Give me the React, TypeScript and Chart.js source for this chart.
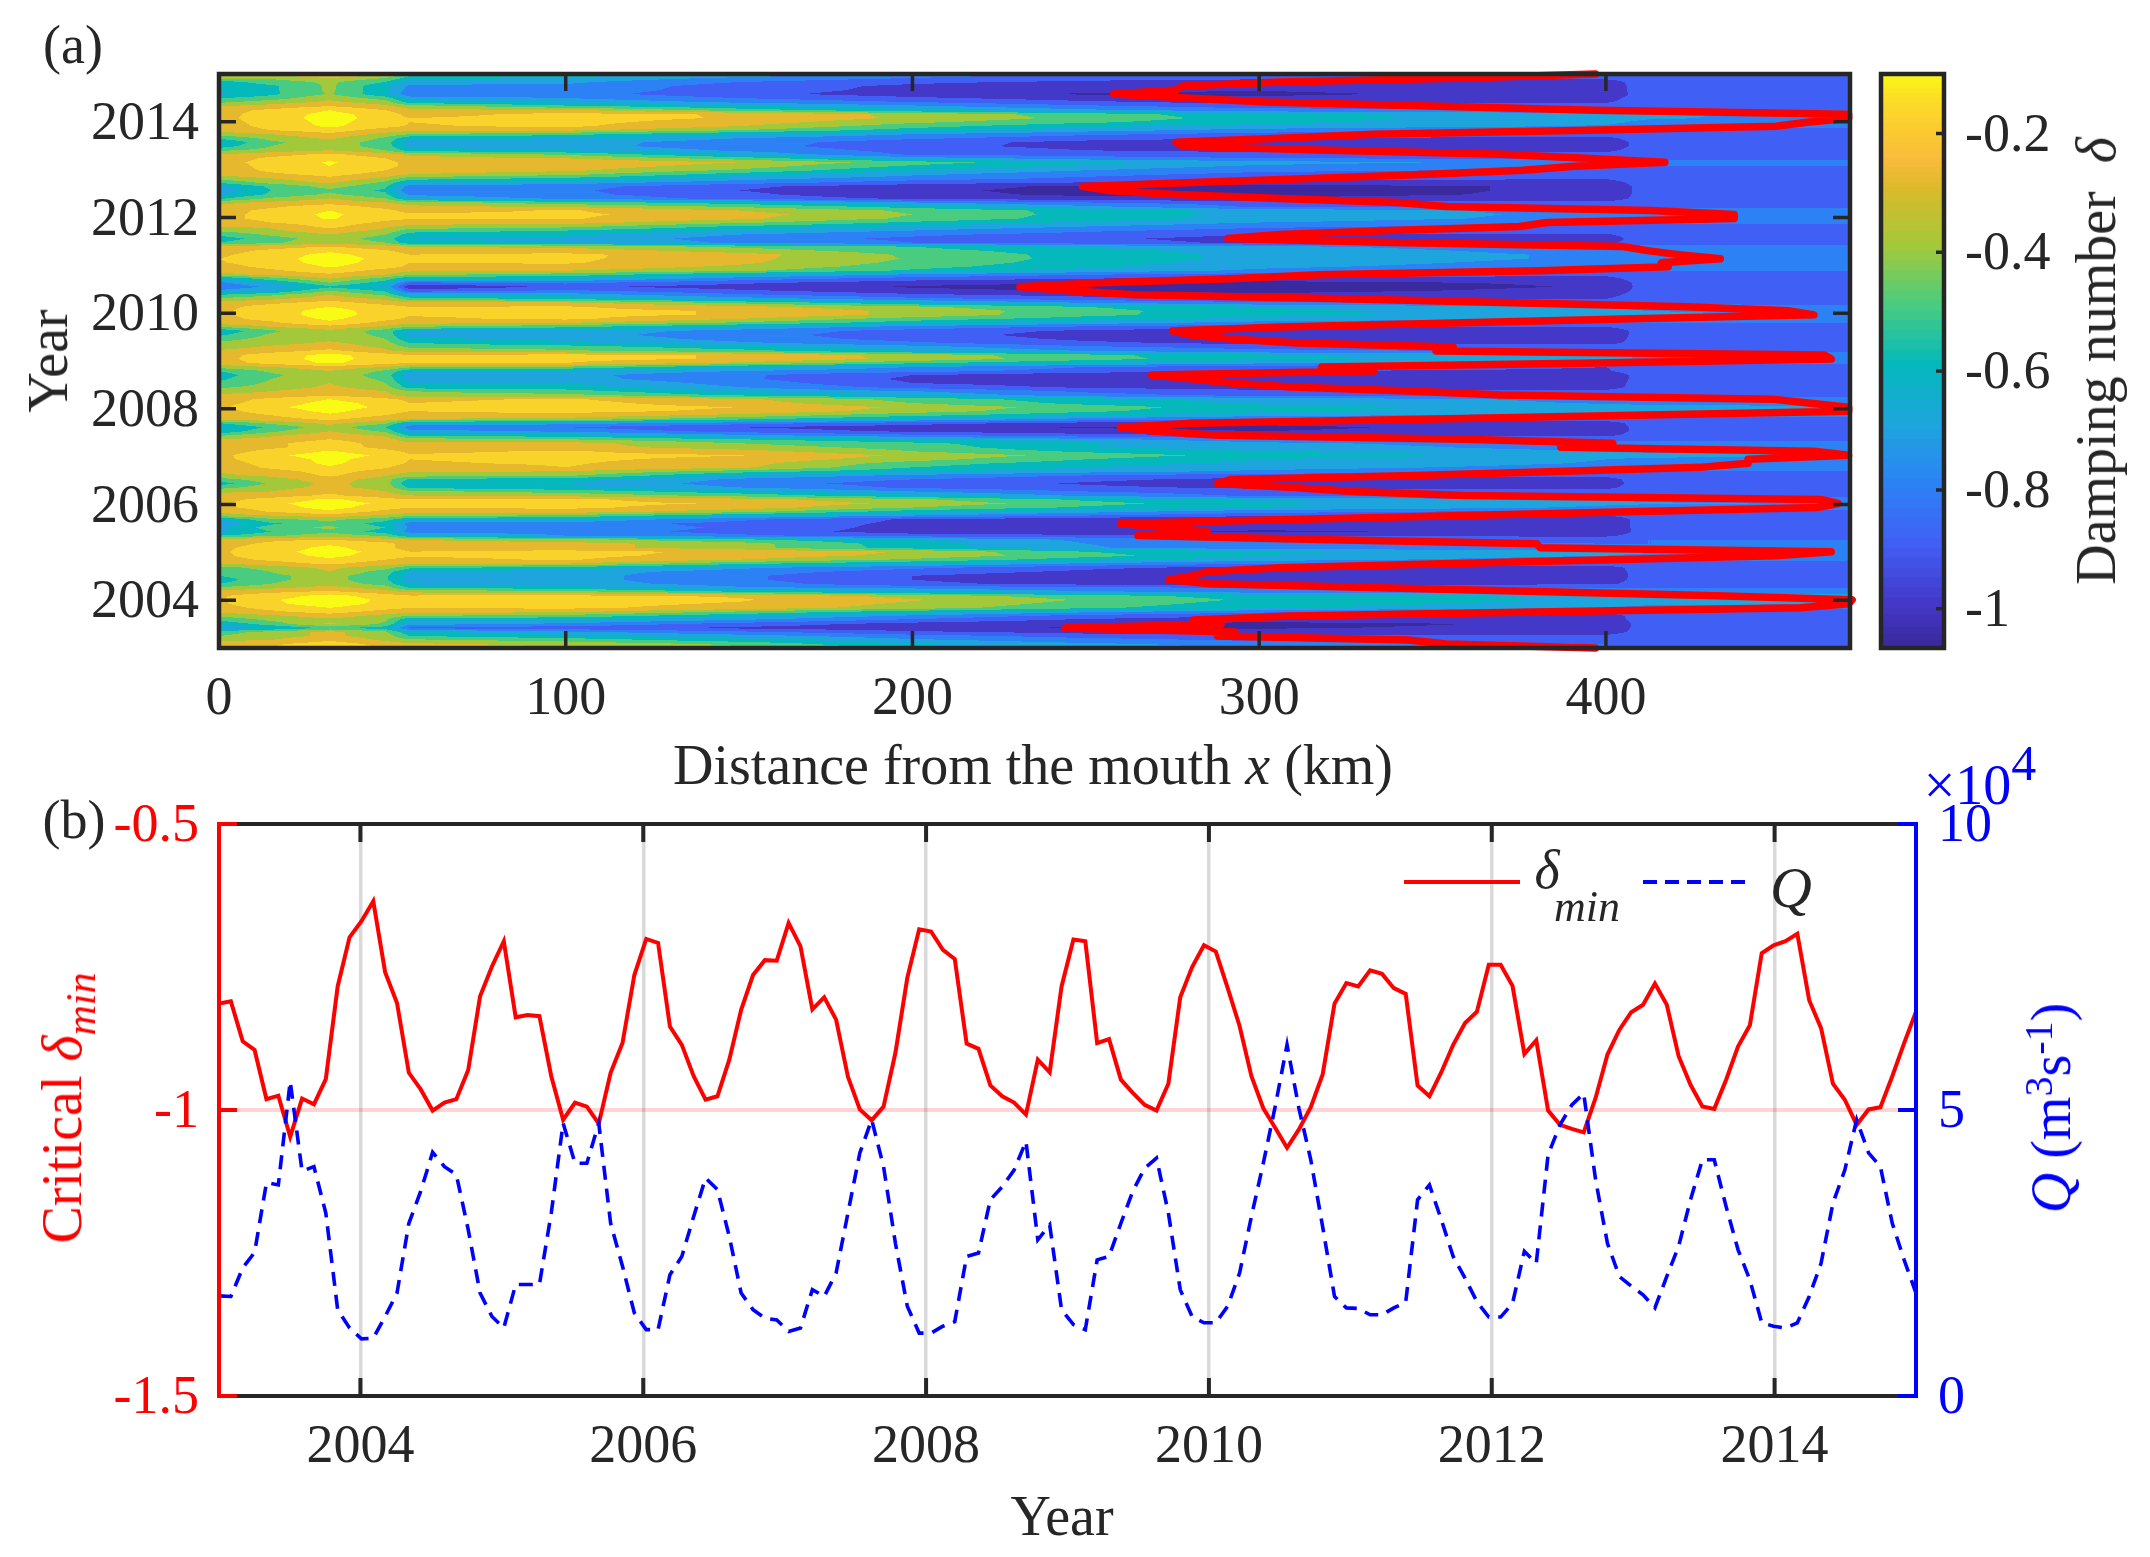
import React, { useEffect, useRef } from "react";
import { Chart, registerables } from "chart.js";

Chart.register(...registerables);

const SERIF = '"Liberation Serif", "Times New Roman", serif';
const DARK = "#262626";

// Panel (a): distance columns of the damping-number table (km)
const fieldColumns = [0, 15, 32, 48, 55, 100, 150, 200, 250, 300, 400, 412, 470];
// |delta| x 100, one row per month, first row = top of the panel (2015), last row = 2003
const fieldRows = [
  [25,26,18,25,45,52,62,75,80,85,85,83,83],
  [35,38,30,40,55,62,72,80,86,88,88,85,85],
  [55,45,38,50,66,68,80,88,92,94,94,85,85],
  [58,52,38,58,72,72,85,92,97,99,95,85,85],
  [60,52,38,58,74,74,85,93,98,99.5,95,85,85],
  [62,52,39,58,78,76,87,95,101,102,96,85,85],
  [50,45,32,45,65,70,80,88,95,98,93,85,85],
  [42,35,28,35,55,62,72,80,88,94,91,85,85],
  [30,26,20,28,35,48,58,68,78,85,85,84,84],
  [24,18,10,20,28,28,45,58,68,76,80,80,80],
  [24,15,7,14,24,17,21,33,45,57,67,69,72],
  [23,15,6,14,20,16,21,32,43,55,67,69,73],
  [24,16,7,15,20,17,25,38,48,58,68,72,74],
  [25,17,8,17,21,18,30,46,58,63,71,74,75],
  [26,20,15,25,27,28,40,55,66,74,82,84,84],
  [36,30,22,33,40,47,60,70,78,84,87,85,85],
  [48,37,28,42,58,60,70,78,86,90,92,85,85],
  [60,42,34,45,66,66,75,86,93,97,96,85,85],
  [55,40,34,45,63,66,76,87,93,96,96,85,85],
  [42,36,30,40,55,60,72,84,90,93,92,85,85],
  [30,24,18,26,32,42,62,82,85,86,88,84,84],
  [26,18,12,20,26,30,45,65,75,80,82,82,82],
  [24,16,9,17,23,21,30,45,58,66,74,77,78],
  [25,17,10,18,22,24,35,52,63,72,79,80,80],
  [26,18,12,20,24,28,42,60,70,78,82,82,82],
  [28,22,17,24,30,37,55,68,77,83,85,85,85],
  [36,30,22,33,45,52,66,75,82,87,89,85,85],
  [48,36,28,42,60,65,75,85,90,94,94,85,85],
  [62,48,36,48,75,76,88,96,102,104,98,85,85],
  [68,50,42,52,80,78,90,98,103,104,98,85,85],
  [62,48,38,48,72,77,88,97,102,103,98,85,85],
  [52,38,30,40,62,72,84,92,97,99,96,85,85],
  [33,28,24,30,35,46,55,70,80,85,87,85,85],
  [27,22,15,24,28,32,42,55,68,82,82,82,82],
  [25,17,10,17,24,19,30,42,54,64,74,76,77],
  [24,16,8,16,18,18,26,40,54,63,73,75,76],
  [24,16,9,17,19,19,28,42,55,64,74,75,76],
  [28,20,14,22,26,26,38,52,62,70,78,79,79],
  [30,28,17,28,33,37,52,62,70,78,84,83,83],
  [38,32,24,33,45,50,62,70,78,84,87,85,85],
  [48,38,30,40,55,58,70,78,84,90,91,85,85],
  [55,45,34,45,60,62,75,82,88,94,94,85,85],
  [50,42,33,40,58,60,72,80,86,92,92,85,85],
  [28,24,20,26,30,33,42,50,62,68,76,78,78],
  [24,18,12,19,24,24,35,46,56,65,74,76,77],
  [22,15,7,15,20,18,26,42,54,63,72,74,75],
  [20,14,5,13,18,18,27,41,54,63,72,73,74],
  [21,15,6,14,20,19,28,43,55,65,74,76,76],
  [24,17,9,16,22,23,32,46,58,68,76,77,77],
  [28,22,14,24,28,30,38,52,64,72,80,80,80],
  [33,28,22,30,38,45,60,72,80,85,88,85,85],
  [62,45,30,45,60,60,75,85,90,95,93,85,85],
  [72,60,40,55,82,78,88,96,100,103,98,85,85],
  [78,68,52,62,99,88,95,101,104,106,99,85,85],
  [68,60,40,52,85,78,88,97,101,103,97,85,85],
  [50,42,30,42,62,65,78,88,94,98,93,85,85],
  [38,32,24,32,45,52,65,77,85,90,90,85,85],
  [25,22,16,24,27,28,42,58,70,78,83,83,83],
  [23,16,10,16,20,19,27,38,50,60,72,75,77],
  [22,15,6,15,19,17,21,33,46,58,66,70,73],
  [22,15,5,15,19,17,21,33,47,57,66,68,71],
  [23,17,8,17,22,18,30,45,55,63,72,74,75],
  [25,22,12,24,27,30,42,56,66,74,80,80,80],
  [40,30,24,32,40,48,62,74,82,88,90,85,85],
  [58,42,32,45,62,64,74,84,92,97,96,85,85],
  [52,38,35,42,65,66,76,86,94,98,96,85,85],
  [44,36,33,40,58,62,74,84,92,96,95,85,85],
  [38,34,28,36,50,58,68,78,88,93,93,85,85],
  [35,28,24,32,42,45,56,66,78,84,85,84,84],
  [28,24,17,28,33,38,46,60,70,77,83,83,83],
  [24,15,7,15,20,17,21,34,47,58,69,71,73],
  [23,15,6,15,19,17,21,33,46,57,68,71,72],
  [24,17,8,17,19,20,32,48,60,68,75,78,78],
  [36,30,24,30,38,42,60,70,80,86,90,85,85],
  [50,38,30,42,58,62,70,76,85,90,91,84,84],
  [55,42,33,45,66,67,78,90,97,100.5,96,85,85],
  [52,40,33,42,66,66,78,92,96,99,96,85,85],
  [48,38,30,40,60,60,74,90,95,98,95,85,85],
  [42,36,28,36,55,56,70,84,92,96,94,85,85],
  [35,30,24,30,40,46,62,70,82,87,88,85,85],
  [28,26,22,27,36,37,52,62,76,84,86,84,84],
  [24,18,10,18,22,19,28,44,56,64,73,75,76],
  [23,16,6,14,20,17,25,40,53,62,71,73,74],
  [22,12,5,12,19,16,20,32,45,56,65,66,69],
  [23,16,7,16,20,17,22,35,48,58,66,68,70],
  [25,20,12,20,24,23,33,47,58,66,75,76,77],
  [28,24,18,26,30,34,48,62,74,82,86,84,84],
  [50,38,27,38,62,66,76,86,94,98,94,85,85],
  [62,48,34,50,76,80,90,96,101,102,96,85,85],
  [58,42,30,42,66,72,84,92,97,100,96,85,85],
  [42,32,24,32,52,56,68,78,86,92,92,85,85],
  [30,26,20,26,36,40,50,58,68,76,82,82,82],
  [26,22,15,24,28,26,40,48,58,68,76,78,78],
  [25,22,15,23,26,26,35,44,60,64,75,78,78],
  [25,17,9,17,22,19,26,40,52,60,70,72,74],
  [23,12,5,12,19,17,19.5,32,44,54,64,66,68],
  [22,16,7,15,20,18,23,36,50,60,70,73,74],
  [24,17,8,16,21,19,26,45,56,62,71,73,74],
  [27,18,11,19,25,20,28,50,60,66,74,75,76],
  [29,24,16,24,29,30,45,58,66,72,80,80,80],
  [32,28,18,29,35,38,62,72,80,86,88,85,85],
  [44,34,25,35,52,56,72,80,88,93,93,85,85],
  [55,38,27,36,58,60,75,85,91,96,94,85,85],
  [44,34,27,34,52,58,70,82,88,92,92,85,85],
  [32,30,22,30,38,44,56,70,80,86,87,84,84],
  [26,25,18,26,30,33,44,58,72,82,84,83,83],
  [24,16,8,16,20,18,26,38,52,62,70,72,74],
  [22,12,5,12,19,17,21,33,46,58,68,69,71],
  [23,15,6,16,20,18,25,40,52,60,72,74,75],
  [28,19,12,23,26,24,36,55,66,76,84,83,83],
  [35,30,24,32,36,42,58,70,80,88,90,85,85],
  [62,42,38,46,60,62,78,92,98,102,97,85,85],
  [68,52,42,55,74,74,84,92,96,99,97,85,85],
  [62,45,38,50,72,72,82,94,96,98,97,85,85],
  [65,50,42,55,74,74,84,95,98,101,98,85,85],
  [50,42,34,42,58,70,78,85,88,92,92,85,85],
  [26,22,20,26,30,36,48,60,72,80,84,80,80],
  [24,18,12,17,25,26,36,56,70,76,80,80,80],
  [22,16,7,17,25,26,36,55,69,76,80,79,79],
  [22,13,6,13,20,17,22,31,50,58,66,68,71],
  [22,15,7,15,19,17,24,33,46,60,70,73,75],
  [24,18,12,20,23,19,30,42,56,66,76,78,79],
  [30,25,18,26,28,30,48,60,72,80,85,84,84],
  [45,35,28,36,48,55,68,78,88,94,94,85,85],
  [50,40,30,45,60,65,75,85,92,96,95,85,85],
  [50,42,36,48,65,66,78,90,96,99,96,85,85],
  [55,42,36,48,65,66,78,90,95,96,95,85,85],
  [50,40,34,44,62,65,75,88,93,93,92,85,85],
  [38,32,26,35,50,55,68,72,78,80,80,80,80],
  [25,22,18,26,32,36,50,60,68,74,76,76,76],
  [21,15,6,15,19,18,21,34,46,55,63,65,64],
  [21,11,4,12,18,17,19,29,41,52,62,64,67],
  [22,12,5,13,19,17,21,32,44,55,64,67,70],
  [24,17,10,17,20,18,24,35,48,58,70,75,78],
  [28,22,16,24,27,28,42,56,68,78,88,85,85],
  [38,32,25,34,40,44,58,72,84,90,94,85,85],
  [48,38,33,38,60,60,70,82,92,96,95,85,85],
  [58,45,28,42,66,72,84,94,100,103,98,85,85],
  [68,60,48,55,82,86,92,97,101,101,97,85,85],
  [45,36,27,38,58,68,78,88,94,96,95,85,85],
  [40,34,28,35,50,57,66,76,84,88,88,84,84],
  [32,30,22,32,38,44,56,68,76,82,84,84,83],
  [26,22,14,24,28,33,42,60,68,74,80,80,80],
  [24,20,9,22,25,28,38,52,63,72,80,81,81],
];

// Contour bands of the filled field: lower bound of each band (delta) and its fill
const bandFloors = [-0.1, -0.2, -0.3, -0.4, -0.5, -0.6, -0.7, -0.8, -0.9, -1.0];
const bandColors = ["#f9fb15", "#fad32a", "#e6b82e", "#a3c93a", "#49cc80", "#05b8bc", "#1ea5de", "#2c82f5", "#4060f5", "#4338c8", "#3a2a9e"];

// Panel (a): position of the critical line, km, one per month from 2003 to 2015
const criticalX = [
  397,354,343,288,293,244,289,281,309,384,456,470,471,432,383,335,286,274,281,285,306,353,401,449,
  465,381,380,317,265,285,273,260,309,359,410,461,467,462,359,327,310,288,292,345,386,427,441,441,
  470,460,387,402,359,288,270,260,281,347,408,470,470,459,448,370,343,309,292,281,269,333,318,397,
  465,463,351,356,311,292,280,275,306,359,408,460,453,423,373,324,264,245,231,254,292,317,381,418,
  416,433,421,412,405,338,291,306,338,375,383,437,437,413,354,340,306,276,256,249,281,317,349,376,
  391,417,394,370,320,278,276,306,333,395,449,458,470,470,397,349,302,279,258,276,278,306,359,397,
];

// Panel (b): critical delta_min, one per month
const deltaMin = [
  -0.814,-0.81,-0.88,-0.895,-0.981,-0.975,-1.047,-0.98,-0.99,-0.946,-0.784,-0.698,
  -0.67,-0.635,-0.759,-0.813,-0.935,-0.964,-1.001,-0.987,-0.981,-0.93,-0.801,-0.749,
  -0.705,-0.838,-0.834,-0.836,-0.941,-1.017,-0.987,-0.994,-1.024,-0.935,-0.883,-0.764,
  -0.701,-0.708,-0.854,-0.886,-0.941,-0.982,-0.976,-0.912,-0.825,-0.764,-0.738,-0.739,
  -0.673,-0.714,-0.824,-0.803,-0.842,-0.942,-0.999,-1.018,-0.994,-0.9,-0.769,-0.684,
  -0.688,-0.72,-0.736,-0.884,-0.893,-0.957,-0.976,-0.987,-1.008,-0.912,-0.934,-0.784,
  -0.702,-0.705,-0.883,-0.876,-0.947,-0.97,-0.991,-1.001,-0.954,-0.803,-0.75,-0.712,
  -0.723,-0.787,-0.853,-0.941,-0.997,-1.031,-1.066,-1.034,-0.995,-0.938,-0.814,-0.778,
  -0.784,-0.756,-0.762,-0.787,-0.797,-0.957,-0.976,-0.934,-0.886,-0.848,-0.828,-0.746,
  -0.746,-0.783,-0.902,-0.878,-1.001,-1.026,-1.033,-1.039,-0.979,-0.903,-0.86,-0.829,
  -0.816,-0.779,-0.816,-0.906,-0.956,-0.994,-0.998,-0.947,-0.889,-0.852,-0.726,-0.712,
  -0.705,-0.692,-0.808,-0.857,-0.954,-0.982,-1.026,-0.999,-0.995,-0.941,-0.883,-0.828,
];

// Panel (b): river discharge Q in units of 10^4 m3/s, one per month
const discharge = [
  1.75,1.74,2.24,2.51,3.73,3.69,5.5,3.93,4.01,3.2,1.51,1.19,
  1.0,1.01,1.39,1.8,3.02,3.58,4.26,4.01,3.87,2.91,1.8,1.39,
  1.19,1.95,1.95,1.95,3.2,4.77,4.07,4.07,4.77,3.02,2.27,1.45,
  1.16,1.16,2.12,2.44,3.14,3.81,3.61,2.79,1.8,1.51,1.36,1.33,
  1.13,1.19,1.86,1.74,2.15,3.2,4.25,4.83,4.01,2.67,1.57,1.1,
  1.1,1.22,1.3,2.44,2.5,3.43,3.66,3.95,4.45,2.73,2.99,1.51,
  1.25,1.16,2.38,2.44,3.02,3.58,3.98,4.16,3.2,1.86,1.39,1.28,
  1.28,1.57,2.15,3.14,4.07,5.06,6.14,5.03,4.13,2.96,1.74,1.54,
  1.53,1.42,1.42,1.54,1.64,3.43,3.69,3.08,2.44,2.06,1.65,1.38,
  1.38,1.62,2.53,2.32,4.22,4.74,5.09,5.29,3.78,2.67,2.09,1.92,
  1.77,1.54,2.09,2.62,3.43,4.13,4.13,3.31,2.56,2.03,1.28,1.22,
  1.19,1.28,1.74,2.32,3.37,3.95,4.83,4.25,4.01,3.02,2.38,1.8,
];

const YEAR_MIN = 2003;
const YEAR_MAX = 2015;
const yearOf = (i: number, n: number) => YEAR_MIN + ((YEAR_MAX - YEAR_MIN) * i) / (n - 1);

// Tick labels
const distanceTicks = [0, 100, 200, 300, 400];
const yearTicksA = [2004, 2006, 2008, 2010, 2012, 2014];
const yearTicksB = [2004, 2006, 2008, 2010, 2012, 2014];
const deltaTicks = [-1.5, -1, -0.5];
const dischargeTicks = [0, 5, 10];
const colorbarTicks = [-1, -0.8, -0.6, -0.4, -0.2];

// Colour bar stops
const cbarValues = [-1.066, -1.0, -0.9, -0.8, -0.7, -0.6, -0.5, -0.4, -0.3, -0.25, -0.2, -0.15, -0.1];
const cbarColors = ["#3a2a9e", "#4338c8", "#4060f5", "#2c82f5", "#1ea5de", "#05b8bc", "#49cc80", "#a3c93a", "#dcb92a", "#f9bb3c", "#fbcb30", "#fcdc26", "#f9fb15"];

const hexRgb = (h: string) => [1, 3, 5].map((i) => parseInt(h.slice(i, i + 2), 16));

const fixedTicks = (list: number[]) => (scale: any) => {
  scale.ticks = list.map((value) => ({ value }));
};
const fixWidth = (w: number) => (scale: any) => {
  scale.width = w;
};
const fixHeight = (h: number) => (scale: any) => {
  scale.height = h;
};

const tickFont = { family: SERIF, size: 54 };
const AXIS_H = 110;

function drawBox(chart: any, opts: { tick: number }) {
  const { ctx, chartArea: a } = chart;
  const xs = chart.scales.x;
  const ys = chart.scales.y;
  ctx.save();
  ctx.strokeStyle = DARK;
  ctx.lineWidth = 4.5;
  ctx.strokeRect(a.left, a.top, a.right - a.left, a.bottom - a.top);
  ctx.lineWidth = 3.5;
  ctx.beginPath();
  xs.ticks.forEach((t: any) => {
    const px = xs.getPixelForValue(t.value);
    if (px <= a.left + 2) return;
    ctx.moveTo(px, a.top);
    ctx.lineTo(px, a.top + opts.tick);
    ctx.moveTo(px, a.bottom);
    ctx.lineTo(px, a.bottom - opts.tick);
  });
  ys.ticks.forEach((t: any) => {
    const py = ys.getPixelForValue(t.value);
    ctx.moveTo(a.left, py);
    ctx.lineTo(a.left + opts.tick, py);
    ctx.moveTo(a.right, py);
    ctx.lineTo(a.right - opts.tick, py);
  });
  ctx.stroke();
  ctx.restore();
}

const fieldPlugin = {
  id: "fieldPlugin",
  beforeDatasetsDraw(chart: any) {
    const { ctx, chartArea: a } = chart;
    const xs = chart.scales.x;
    const ys = chart.scales.y;
    const w = Math.round(a.right - a.left);
    const h = Math.round(a.bottom - a.top);
    const off = document.createElement("canvas");
    off.width = w;
    off.height = h;
    const octx = off.getContext("2d")!;
    const img = octx.createImageData(w, h);
    const rgb = bandColors.map(hexRgb);
    const nRows = fieldRows.length;
    const cols: [number, number][] = [];
    for (let px = 0; px < w; px++) {
      const km = xs.getValueForPixel(a.left + px + 0.5);
      let c = 0;
      while (c < fieldColumns.length - 2 && km > fieldColumns[c + 1]) c++;
      const f = Math.min(1, Math.max(0, (km - fieldColumns[c]) / (fieldColumns[c + 1] - fieldColumns[c])));
      cols.push([c, f]);
    }
    for (let py = 0; py < h; py++) {
      const year = ys.getValueForPixel(a.top + py + 0.5);
      const rowPos = Math.min(nRows - 1.0001, Math.max(0, ((YEAR_MAX - year) / (YEAR_MAX - YEAR_MIN)) * (nRows - 1)));
      const r0 = Math.floor(rowPos);
      const fr = rowPos - r0;
      const upper = fieldRows[r0];
      const lower = fieldRows[r0 + 1];
      for (let px = 0; px < w; px++) {
        const [c, f] = cols[px];
        const t = upper[c] * (1 - f) + upper[c + 1] * f;
        const b = lower[c] * (1 - f) + lower[c + 1] * f;
        const v = -(t * (1 - fr) + b * fr) / 100;
        let band = bandFloors.length;
        for (let i = 0; i < bandFloors.length; i++) {
          if (v >= bandFloors[i]) {
            band = i;
            break;
          }
        }
        const col = rgb[band];
        const o = (py * w + px) * 4;
        img.data[o] = col[0];
        img.data[o + 1] = col[1];
        img.data[o + 2] = col[2];
        img.data[o + 3] = 255;
      }
    }
    octx.putImageData(img, 0, 0);
    ctx.drawImage(off, a.left, a.top);
  },
  afterDatasetsDraw(chart: any) {
    drawBox(chart, { tick: 17 });
  },
};

const colorbarPlugin = {
  id: "colorbarPlugin",
  afterDatasetsDraw(chart: any) {
    const { ctx, chartArea: a } = chart;
    const ys = chart.scales.y;
    ctx.save();
    ctx.strokeStyle = DARK;
    ctx.lineWidth = 4.5;
    ctx.strokeRect(a.left, a.top, a.right - a.left, a.bottom - a.top);
    ctx.lineWidth = 3.5;
    ctx.beginPath();
    ys.ticks.forEach((t: any) => {
      const py = ys.getPixelForValue(t.value);
      ctx.moveTo(a.right, py);
      ctx.lineTo(a.right - 8, py);
    });
    ctx.stroke();
    ctx.restore();
  },
};

const panelBPlugin = {
  id: "panelBPlugin",
  afterDatasetsDraw(chart: any) {
    const { ctx, chartArea: a } = chart;
    const xs = chart.scales.x;
    const yl = chart.scales.y;
    const yr = chart.scales.y2;
    const TICK = 18;
    ctx.save();
    ctx.lineWidth = 4;
    ctx.strokeStyle = DARK;
    ctx.beginPath();
    ctx.moveTo(a.left, a.top);
    ctx.lineTo(a.right, a.top);
    ctx.moveTo(a.left, a.bottom);
    ctx.lineTo(a.right, a.bottom);
    xs.ticks.forEach((t: any) => {
      const px = xs.getPixelForValue(t.value);
      ctx.moveTo(px, a.top);
      ctx.lineTo(px, a.top + TICK);
      ctx.moveTo(px, a.bottom);
      ctx.lineTo(px, a.bottom - TICK);
    });
    ctx.stroke();
    ctx.strokeStyle = "#ff0000";
    ctx.beginPath();
    ctx.moveTo(a.left, a.top - 2);
    ctx.lineTo(a.left, a.bottom + 2);
    yl.ticks.forEach((t: any) => {
      const py = yl.getPixelForValue(t.value);
      ctx.moveTo(a.left, py);
      ctx.lineTo(a.left + TICK, py);
    });
    ctx.stroke();
    ctx.strokeStyle = "#0000ff";
    ctx.beginPath();
    ctx.moveTo(a.right, a.top - 2);
    ctx.lineTo(a.right, a.bottom + 2);
    yr.ticks.forEach((t: any) => {
      const py = yr.getPixelForValue(t.value);
      ctx.moveTo(a.right, py);
      ctx.lineTo(a.right - TICK, py);
    });
    ctx.stroke();
    // legend keys
    ctx.lineWidth = 4;
    ctx.strokeStyle = "#ff0000";
    ctx.beginPath();
    ctx.moveTo(1404, 882);
    ctx.lineTo(1520, 882);
    ctx.stroke();
    ctx.strokeStyle = "#0000ff";
    ctx.setLineDash([14, 8]);
    ctx.beginPath();
    ctx.moveTo(1643, 882);
    ctx.lineTo(1752, 882);
    ctx.stroke();
    ctx.restore();
  },
};

function useChart(ref: React.RefObject<HTMLCanvasElement | null>, build: () => any) {
  useEffect(() => {
    const chart = new Chart(ref.current as HTMLCanvasElement, build());
    return () => chart.destroy();
  }, []);
}

const W = 2150;
const H = 1557;

function Txt(props: { x: number; y: number; rot?: number; color?: string; size?: number; children: React.ReactNode }) {
  const { x, y, rot = 0, color = DARK, size = 56 } = props;
  return (
    <div
      style={{
        position: "absolute",
        left: x,
        top: y,
        transform: `translate(-50%, -50%) rotate(${rot}deg)`,
        fontFamily: SERIF,
        fontSize: size,
        lineHeight: 1,
        color,
        whiteSpace: "pre",
      }}
    >
      {props.children}
    </div>
  );
}

export default function App() {
  const aRef = useRef<HTMLCanvasElement>(null);
  const cRef = useRef<HTMLCanvasElement>(null);
  const bRef = useRef<HTMLCanvasElement>(null);

  useChart(aRef, () => ({
    type: "scatter",
    data: {
      datasets: [
        {
          label: "critical position",
          data: criticalX.map((x, i) => ({ x, y: yearOf(i, criticalX.length) })),
          showLine: true,
          borderColor: "#ff0000",
          borderWidth: 7.5,
          borderJoinStyle: "round",
          borderCapStyle: "round",
          pointRadius: 0,
          tension: 0,
          clip: false,
        },
      ],
    },
    plugins: [fieldPlugin],
    options: {
      responsive: false,
      animation: false,
      devicePixelRatio: 1,
      layout: { autoPadding: false, padding: { left: 0, top: 74, right: W - 1850, bottom: H - 648 - AXIS_H } },
      plugins: { legend: { display: false }, tooltip: { enabled: false } },
      scales: {
        x: {
          type: "linear",
          min: 0,
          max: 470.4,
          afterBuildTicks: fixedTicks(distanceTicks),
          afterFit: fixHeight(AXIS_H),
          grid: { display: false, drawTicks: false },
          border: { display: false },
          ticks: { font: tickFont, color: DARK, padding: 19, autoSkip: false, maxRotation: 0, callback: (v: number) => String(v) },
        },
        y: {
          type: "linear",
          min: YEAR_MIN,
          max: YEAR_MAX,
          afterBuildTicks: fixedTicks(yearTicksA),
          afterFit: fixWidth(219),
          grid: { display: false, drawTicks: false },
          border: { display: false },
          ticks: { font: tickFont, color: DARK, padding: 20, labelOffset: 3, autoSkip: false, callback: (v: number) => String(v) },
        },
      },
    },
  }));

  useChart(cRef, () => {
    const steps = cbarValues.slice(0, -1).flatMap((lo, i) => {
      const hi = cbarValues[i + 1];
      const c0 = hexRgb(cbarColors[i]);
      const c1 = hexRgb(cbarColors[i + 1]);
      return [0, 1, 2, 3, 4, 5].map((s) => {
        const f = s / 6;
        return {
          lo: lo + (hi - lo) * f,
          hi: lo + (hi - lo) * (f + 1 / 6 + 0.02),
          color: `rgb(${c0.map((c, j) => Math.round(c + (c1[j] - c) * f)).join(",")})`,
        };
      });
    });
    return {
      type: "bar",
      data: {
        labels: ["delta"],
        datasets: steps.map((s) => ({
          data: [[s.lo, Math.min(s.hi, -0.1)]],
          backgroundColor: s.color,
          barPercentage: 1,
          categoryPercentage: 1,
          grouped: false,
        })),
      },
      plugins: [colorbarPlugin],
      options: {
        responsive: false,
        animation: false,
        devicePixelRatio: 1,
        layout: { autoPadding: false, padding: { left: 1881, top: 74, right: 0, bottom: H - 648 } },
        plugins: { legend: { display: false }, tooltip: { enabled: false } },
        scales: {
          x: { type: "category", display: false, grid: { display: false }, afterFit: fixHeight(0) },
          y: {
            type: "linear",
            position: "right",
            min: -1.066,
            max: -0.1,
            afterBuildTicks: fixedTicks(colorbarTicks),
            afterFit: fixWidth(W - 1944),
            grid: { display: false, drawTicks: false },
            border: { display: false },
            ticks: { font: tickFont, color: DARK, padding: 21, labelOffset: 3, autoSkip: false, callback: (v: number) => String(v) },
          },
        },
      },
    };
  });

  useChart(bRef, () => ({
    type: "line",
    data: {
      datasets: [
        {
          label: "Q",
          yAxisID: "y2",
          data: discharge.map((y, i) => ({ x: yearOf(i, discharge.length), y })),
          borderColor: "#0000ff",
          borderWidth: 3.6,
          borderDash: [14, 9],
          pointRadius: 0,
          tension: 0,
        },
        {
          label: "delta_min",
          yAxisID: "y",
          data: deltaMin.map((y, i) => ({ x: yearOf(i, deltaMin.length), y })),
          borderColor: "#ff0000",
          borderWidth: 4,
          pointRadius: 0,
          tension: 0,
        },
      ],
    },
    plugins: [panelBPlugin],
    options: {
      responsive: false,
      animation: false,
      devicePixelRatio: 1,
      parsing: false,
      layout: { autoPadding: false, padding: { left: 0, top: 824, right: 0, bottom: H - 1396 - AXIS_H } },
      plugins: { legend: { display: false }, tooltip: { enabled: false } },
      scales: {
        x: {
          type: "linear",
          min: YEAR_MIN,
          max: YEAR_MAX,
          afterBuildTicks: fixedTicks(yearTicksB),
          afterFit: fixHeight(AXIS_H),
          grid: { color: "#d9d9d9", lineWidth: 3.5, drawTicks: false },
          border: { display: false },
          ticks: { font: tickFont, color: DARK, padding: 19, autoSkip: false, maxRotation: 0, callback: (v: number) => String(v) },
        },
        y: {
          type: "linear",
          position: "left",
          min: -1.5,
          max: -0.5,
          afterBuildTicks: fixedTicks(deltaTicks),
          afterFit: fixWidth(219),
          grid: { color: "rgba(255,0,0,0.17)", lineWidth: 4, drawTicks: false },
          border: { display: false },
          ticks: { font: tickFont, color: "#ff0000", padding: 20, labelOffset: 3, autoSkip: false, callback: (v: number) => String(v) },
        },
        y2: {
          type: "linear",
          position: "right",
          min: 0,
          max: 10,
          afterBuildTicks: fixedTicks(dischargeTicks),
          afterFit: fixWidth(W - 1916),
          grid: { display: false, drawTicks: false },
          border: { display: false },
          ticks: { font: tickFont, color: "#0000ff", padding: 22, labelOffset: 3, autoSkip: false, callback: (v: number) => String(v) },
        },
      },
    },
  }));

  const layer: React.CSSProperties = { position: "absolute", left: 0, top: 0 };
  return (
    <div style={{ position: "absolute", left: 0, top: 0, width: W, height: H, background: "#fff", overflow: "hidden" }}>
      <canvas ref={aRef} width={W} height={H} style={layer} />
      <canvas ref={cRef} width={W} height={H} style={layer} />
      <canvas ref={bRef} width={W} height={H} style={layer} />
      <Txt x={73} y={45} size={54}>(a)</Txt>
      <Txt x={74} y={820} size={54}>(b)</Txt>
      <Txt x={48} y={361} rot={-90}>Year</Txt>
      <Txt x={1033} y={765}>
        Distance from the mouth <i>x</i> (km)
      </Txt>
      <Txt x={2096} y={361} rot={-90}>
        Damping number  <i>δ</i>
      </Txt>
      <Txt x={1062} y={1516}>Year</Txt>
      <Txt x={62} y={1108} rot={-90} color="#ff0000">
        Critical <i>δ</i>
        <i style={{ fontSize: 42, position: "relative", top: 14 }}>min</i>
      </Txt>
      <Txt x={2051} y={1108} rot={-90} color="#0000ff">
        <i>Q</i> (m<span style={{ fontSize: 40, position: "relative", top: -18 }}>3</span>s
        <span style={{ fontSize: 40, position: "relative", top: -18 }}>-1</span>)
      </Txt>
      <Txt x={1980} y={785} color="#0000ff">
        ×10<span style={{ fontSize: 50, position: "relative", top: -24 }}>4</span>
      </Txt>
      <Txt x={1547} y={870} size={54}><i>δ</i></Txt>
      <Txt x={1587} y={907} size={44}><i>min</i></Txt>
      <Txt x={1791} y={888} size={58}><i>Q</i></Txt>
    </div>
  );
}
